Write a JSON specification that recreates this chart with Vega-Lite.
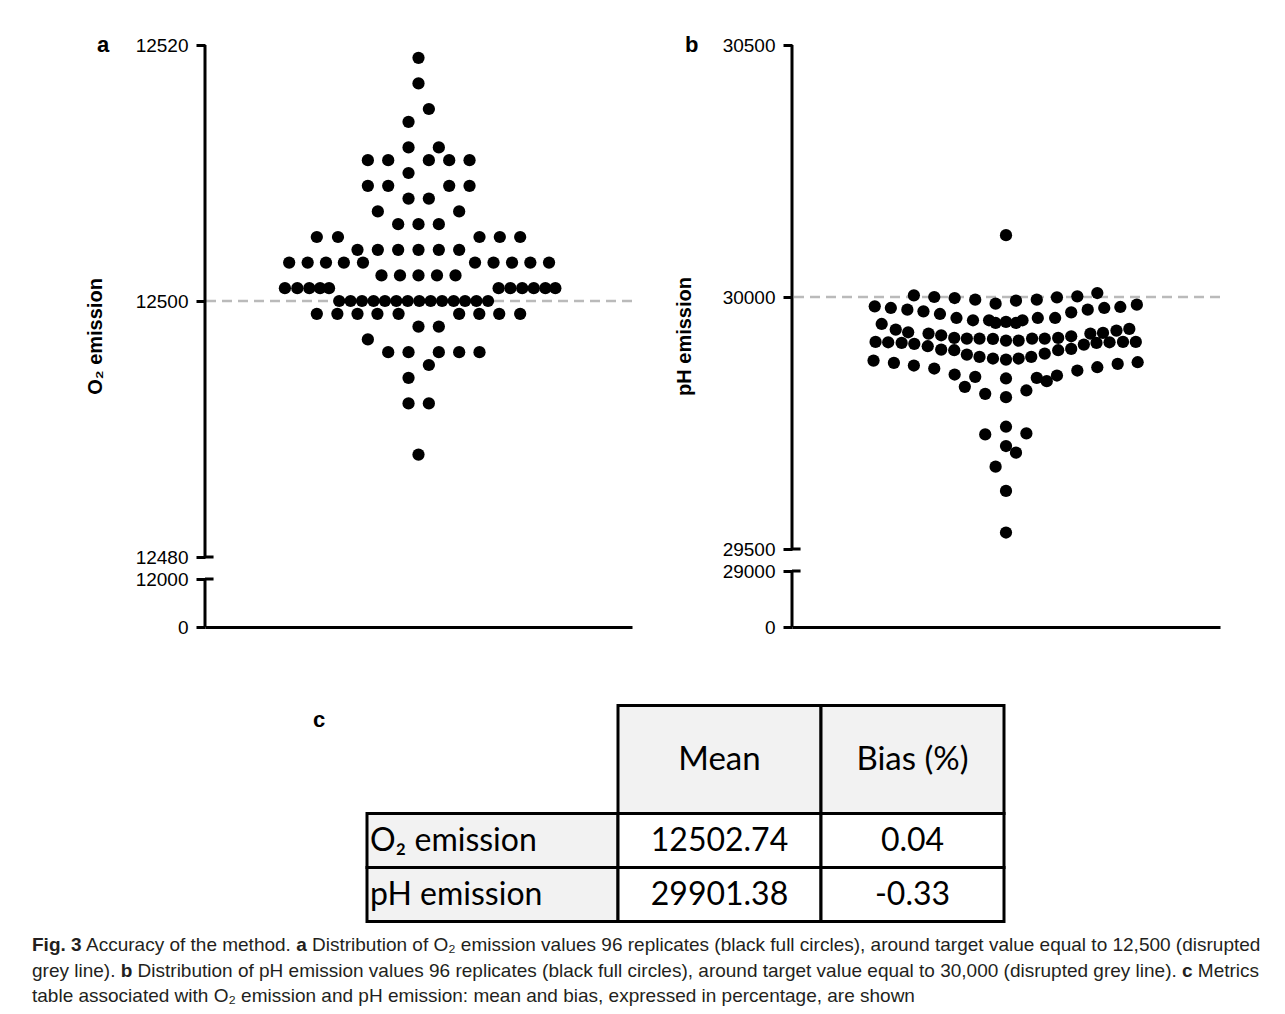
{
  "$schema": "https://vega.github.io/schema/vega-lite/v6.json",
  "background": "white",
  "padding": {"left": 32, "top": 34, "right": 0, "bottom": 0},
  "config": {"view": {"stroke": null}, "font": "Liberation Sans"},
  "datasets": {
    "o2": [
      {"dx": 0, "v": 12519}, {"dx": 0, "v": 12517}, {"dx": 0.51, "v": 12515}, {"dx": -0.49, "v": 12514},
      {"dx": -0.49, "v": 12512}, {"dx": 1, "v": 12512},
      {"dx": -2.49, "v": 12511}, {"dx": -1.49, "v": 12511}, {"dx": 0.51, "v": 12511}, {"dx": 1.51, "v": 12511}, {"dx": 2.51, "v": 12511},
      {"dx": -0.49, "v": 12510},
      {"dx": -2.49, "v": 12509}, {"dx": -1.49, "v": 12509}, {"dx": 1.51, "v": 12509}, {"dx": 2.51, "v": 12509},
      {"dx": -0.49, "v": 12508}, {"dx": 0.51, "v": 12508},
      {"dx": -2, "v": 12507}, {"dx": 2, "v": 12507},
      {"dx": -1, "v": 12506}, {"dx": 0, "v": 12506}, {"dx": 1, "v": 12506},
      {"dx": -5, "v": 12505}, {"dx": -3.96, "v": 12505}, {"dx": 3, "v": 12505}, {"dx": 4, "v": 12505}, {"dx": 5, "v": 12505},
      {"dx": -3, "v": 12504}, {"dx": -2, "v": 12504}, {"dx": -1, "v": 12504}, {"dx": 0, "v": 12504}, {"dx": 1, "v": 12504}, {"dx": 2, "v": 12504},
      {"dx": -6.36, "v": 12503}, {"dx": -5.45, "v": 12503}, {"dx": -4.55, "v": 12503}, {"dx": -3.67, "v": 12503}, {"dx": -2.73, "v": 12503},
      {"dx": 2.78, "v": 12503}, {"dx": 3.69, "v": 12503}, {"dx": 4.6, "v": 12503}, {"dx": 5.5, "v": 12503}, {"dx": 6.42, "v": 12503},
      {"dx": -1.82, "v": 12502}, {"dx": -0.91, "v": 12502}, {"dx": 0, "v": 12502}, {"dx": 0.91, "v": 12502}, {"dx": 1.82, "v": 12502},
      {"dx": -6.57, "v": 12501}, {"dx": -5.96, "v": 12501}, {"dx": -5.37, "v": 12501}, {"dx": -4.84, "v": 12501}, {"dx": -4.4, "v": 12501},
      {"dx": 3.94, "v": 12501}, {"dx": 4.52, "v": 12501}, {"dx": 5.1, "v": 12501}, {"dx": 5.67, "v": 12501}, {"dx": 6.24, "v": 12501}, {"dx": 6.73, "v": 12501},
      {"dx": -3.9, "v": 12500}, {"dx": -3.34, "v": 12500}, {"dx": -2.78, "v": 12500}, {"dx": -2.21, "v": 12500}, {"dx": -1.65, "v": 12500},
      {"dx": -1.09, "v": 12500}, {"dx": -0.53, "v": 12500}, {"dx": 0.04, "v": 12500}, {"dx": 0.6, "v": 12500}, {"dx": 1.16, "v": 12500},
      {"dx": 1.73, "v": 12500}, {"dx": 2.29, "v": 12500}, {"dx": 2.85, "v": 12500}, {"dx": 3.42, "v": 12500},
      {"dx": -5, "v": 12499}, {"dx": -3.99, "v": 12499}, {"dx": -3, "v": 12499}, {"dx": -2.02, "v": 12499}, {"dx": -0.98, "v": 12499},
      {"dx": 2, "v": 12499}, {"dx": 2.99, "v": 12499}, {"dx": 3.97, "v": 12499}, {"dx": 5, "v": 12499},
      {"dx": 0, "v": 12498}, {"dx": 1, "v": 12498},
      {"dx": -2.49, "v": 12497},
      {"dx": -1.49, "v": 12496}, {"dx": -0.49, "v": 12496}, {"dx": 1, "v": 12496}, {"dx": 2, "v": 12496}, {"dx": 3, "v": 12496},
      {"dx": 0.51, "v": 12495}, {"dx": -0.49, "v": 12494},
      {"dx": -0.49, "v": 12492}, {"dx": 0.51, "v": 12492},
      {"dx": 0, "v": 12488}
    ],
    "ph": [
      {"dx": -4.52, "v": 30003.3}, {"dx": -3.52, "v": 30000.0}, {"dx": -2.52, "v": 29998.0}, {"dx": -1.51, "v": 29994.7}, {"dx": -0.51, "v": 29986.8},
      {"dx": 0.49, "v": 29992.7}, {"dx": 1.51, "v": 29994.7}, {"dx": 2.5, "v": 29999.3}, {"dx": 3.5, "v": 30001.3}, {"dx": 4.48, "v": 30007.9},
      {"dx": 0, "v": 30122.7},
      {"dx": -6.44, "v": 29981.5}, {"dx": -5.65, "v": 29978.2}, {"dx": -4.84, "v": 29974.9}, {"dx": -4.05, "v": 29971.6}, {"dx": -3.24, "v": 29966.3},
      {"dx": -2.43, "v": 29958.4}, {"dx": -1.62, "v": 29953.8}, {"dx": -0.83, "v": 29953.8}, {"dx": -0.51, "v": 29948.5}, {"dx": 0, "v": 29950.5},
      {"dx": 0.49, "v": 29948.5}, {"dx": 0.81, "v": 29953.8}, {"dx": 1.56, "v": 29958.4}, {"dx": 2.41, "v": 29958.4}, {"dx": 3.2, "v": 29969.6},
      {"dx": 4.01, "v": 29974.9}, {"dx": 4.82, "v": 29978.2}, {"dx": 5.61, "v": 29980.2}, {"dx": 6.42, "v": 29984.8},
      {"dx": -6.1, "v": 29946.5}, {"dx": -5.41, "v": 29935.3}, {"dx": -4.8, "v": 29930.0}, {"dx": -3.8, "v": 29927.4}, {"dx": -3.18, "v": 29924.1},
      {"dx": -2.54, "v": 29918.8}, {"dx": -1.92, "v": 29917.5}, {"dx": -1.3, "v": 29917.5}, {"dx": -0.64, "v": 29916.8}, {"dx": 0, "v": 29913.5},
      {"dx": 0.62, "v": 29913.5}, {"dx": 1.28, "v": 29917.5}, {"dx": 1.9, "v": 29917.5}, {"dx": 2.56, "v": 29918.8}, {"dx": 3.2, "v": 29922.1},
      {"dx": 4.14, "v": 29927.4}, {"dx": 4.76, "v": 29928.7}, {"dx": 5.42, "v": 29933.3}, {"dx": 6.05, "v": 29936.6},
      {"dx": -6.4, "v": 29910.9}, {"dx": -5.78, "v": 29910.2}, {"dx": -5.12, "v": 29908.9}, {"dx": -4.5, "v": 29906.9}, {"dx": -3.84, "v": 29902.3},
      {"dx": -3.18, "v": 29895.7}, {"dx": -2.54, "v": 29894.4}, {"dx": -1.92, "v": 29885.8}, {"dx": -1.3, "v": 29881.2}, {"dx": -0.64, "v": 29877.9},
      {"dx": 0, "v": 29875.9}, {"dx": 0.62, "v": 29877.9}, {"dx": 1.24, "v": 29881.2}, {"dx": 1.9, "v": 29887.8}, {"dx": 2.56, "v": 29894.4},
      {"dx": 3.2, "v": 29897.0}, {"dx": 3.82, "v": 29905.6}, {"dx": 4.44, "v": 29908.9}, {"dx": 5.08, "v": 29910.2}, {"dx": 5.74, "v": 29910.9},
      {"dx": 6.37, "v": 29910.9},
      {"dx": -6.5, "v": 29873.9}, {"dx": -5.5, "v": 29869.3}, {"dx": -4.52, "v": 29864.0}, {"dx": -3.52, "v": 29858.1}, {"dx": -2.52, "v": 29846.2},
      {"dx": -1.51, "v": 29841.6}, {"dx": 0, "v": 29838.3}, {"dx": 1.51, "v": 29839.6}, {"dx": 2.0, "v": 29833.0}, {"dx": 2.5, "v": 29844.2},
      {"dx": 3.5, "v": 29854.1}, {"dx": 4.48, "v": 29860.7}, {"dx": 5.48, "v": 29867.3}, {"dx": 6.46, "v": 29870.6},
      {"dx": -2.02, "v": 29821.8}, {"dx": -1.02, "v": 29807.9}, {"dx": 0, "v": 29801.3}, {"dx": 1.0, "v": 29814.5},
      {"dx": 0, "v": 29742.6}, {"dx": -1.02, "v": 29727.4}, {"dx": 1.0, "v": 29729.4}, {"dx": 0, "v": 29704.3},
      {"dx": 0.49, "v": 29691.1}, {"dx": -0.51, "v": 29663.4}, {"dx": 0, "v": 29615.2}, {"dx": 0, "v": 29532.7}
    ],
    "o2axis": [{"lo": 12480, "hi": 12520}, {"lo": 0, "hi": 12000}],
    "phaxis": [{"lo": 29500, "hi": 30500}, {"lo": 0, "hi": 29000}],
    "o2break": [{"v": 12480}, {"v": 12000}],
    "phbreak": [{"v": 29500}, {"v": 29000}],
    "o2ref": [{"target": 12500}],
    "phref": [{"target": 30000}],
    "cols": [{"col": "Mean"}, {"col": "Bias (%)"}],
    "table": [
      {"row": "O₂ emission", "mean": "12502.74", "bias": "0.04"},
      {"row": "pH emission", "mean": "29901.38", "bias": "-0.33"}
    ],
    "caption": [
      {"line": 1, "seg": "lead", "text": "Fig. 3"},
      {"line": 1, "seg": "s1", "text": "Accuracy of the method."},
      {"line": 1, "seg": "a", "text": "a"},
      {"line": 1, "seg": "s2", "text": "Distribution of O₂ emission values 96 replicates (black full circles), around target value equal to 12,500 (disrupted"},
      {"line": 2, "seg": "s0", "text": "grey line)."},
      {"line": 2, "seg": "b", "text": "b"},
      {"line": 2, "seg": "s1", "text": "Distribution of pH emission values 96 replicates (black full circles), around target value equal to 30,000 (disrupted grey line)."},
      {"line": 2, "seg": "c", "text": "c"},
      {"line": 2, "seg": "s2", "text": "Metrics"},
      {"line": 3, "seg": "s0", "text": "table associated with O₂ emission and pH emission: mean and bias, expressed in percentage, are shown"}
    ]
  },
  "spacing": 66.5,
  "vconcat": [
    {
      "bounds": "flush",
      "spacing": 160,
      "hconcat": [
        {"width": 13, "height": 582, "view": {"fill": "white", "stroke": null}, "data": {"values": []}, "mark": "text"},
        {
          "width": 427, "height": 582,
          "title": {"text": "a", "anchor": "start", "frame": "group", "dx": -108, "dy": 13, "offset": -25, "fontSize": 22, "fontWeight": "bold", "font": "Liberation Sans", "color": "black", "baseline": "alphabetic"},
          "layer": [
            {"data": {"name": "o2ref"}, "mark": {"type": "rule", "color": "#bababa", "strokeWidth": 2.5, "strokeDash": [10, 6]},
             "encoding": {"y": {"field": "target", "type": "quantitative",
               "scale": {"type": "linear", "domain": [0, 12000, 12480, 12520], "range": [582, 534, 512, 0], "zero": false, "nice": false},
               "axis": {"values": [0, 12000, 12480, 12500, 12520], "domain": false, "ticks": true, "tickSize": 9, "tickWidth": 3, "tickColor": "black",
                        "labelFontSize": 19, "labelFont": "Liberation Sans", "labelColor": "black", "labelPadding": 8, "labelOverlap": false, "labelFlush": false, "labelBound": false,
                        "grid": false, "format": "d", "title": "O₂ emission", "titleFont": "Liberation Sans", "titleFontSize": 20, "titleFontWeight": "bold", "titleColor": "black", "titlePadding": 30}}}},
            {"data": {"name": "o2axis"}, "mark": {"type": "rule", "color": "black", "strokeWidth": 3},
             "encoding": {"x": {"datum": -10.5, "type": "quantitative", "scale": {"domain": [-10.5, 10.5], "nice": false, "zero": false},
                                "axis": {"domain": true, "domainWidth": 3, "domainColor": "black", "ticks": false, "labels": false, "grid": false, "title": null}},
                          "y": {"field": "lo", "type": "quantitative"}, "y2": {"field": "hi"}}},
            {"data": {"name": "o2break"}, "mark": {"type": "rule", "color": "black", "strokeWidth": 3},
             "encoding": {"x": {"datum": -10.5, "type": "quantitative"}, "x2": {"datum": -10.08},
                          "y": {"field": "v", "type": "quantitative"}}},
            {"data": {"name": "o2"}, "mark": {"type": "circle", "color": "black", "size": 150, "opacity": 1},
             "encoding": {"x": {"field": "dx", "type": "quantitative"}, "y": {"field": "v", "type": "quantitative"}}}
          ]
        },
        {
          "width": 428, "height": 582,
          "title": {"text": "b", "anchor": "start", "frame": "group", "dx": -107, "dy": 13, "offset": -25, "fontSize": 22, "fontWeight": "bold", "font": "Liberation Sans", "color": "black", "baseline": "alphabetic"},
          "layer": [
            {"data": {"name": "phref"}, "mark": {"type": "rule", "color": "#bababa", "strokeWidth": 2.5, "strokeDash": [10, 6]},
             "encoding": {"y": {"field": "target", "type": "quantitative",
               "scale": {"type": "linear", "domain": [0, 29000, 29500, 30500], "range": [582, 526, 504, 0], "zero": false, "nice": false},
               "axis": {"values": [0, 29000, 29500, 30000, 30500], "domain": false, "ticks": true, "tickSize": 9, "tickWidth": 3, "tickColor": "black",
                        "labelFontSize": 19, "labelFont": "Liberation Sans", "labelColor": "black", "labelPadding": 8, "labelOverlap": false, "labelFlush": false, "labelBound": false,
                        "grid": false, "format": "d", "title": "pH emission", "titleFont": "Liberation Sans", "titleFontSize": 20, "titleFontWeight": "bold", "titleColor": "black", "titlePadding": 28}}}},
            {"data": {"name": "phaxis"}, "mark": {"type": "rule", "color": "black", "strokeWidth": 3},
             "encoding": {"x": {"datum": -10.5, "type": "quantitative", "scale": {"domain": [-10.5, 10.5], "nice": false, "zero": false},
                                "axis": {"domain": true, "domainWidth": 3, "domainColor": "black", "ticks": false, "labels": false, "grid": false, "title": null}},
                          "y": {"field": "lo", "type": "quantitative"}, "y2": {"field": "hi"}}},
            {"data": {"name": "phbreak"}, "mark": {"type": "rule", "color": "black", "strokeWidth": 3},
             "encoding": {"x": {"datum": -10.5, "type": "quantitative"}, "x2": {"datum": -10.08},
                          "y": {"field": "v", "type": "quantitative"}}},
            {"data": {"name": "ph"}, "mark": {"type": "circle", "color": "black", "size": 150, "opacity": 1},
             "encoding": {"x": {"field": "dx", "type": "quantitative"}, "y": {"field": "v", "type": "quantitative"}}}
          ]
        }
      ]
    },
    {
      "spacing": 9,
      "vconcat": [
        {
          "bounds": "flush",
          "spacing": 0,
          "hconcat": [
            {"width": 335, "height": 216, "view": {"fill": "white", "stroke": null}, "data": {"values": []}, "mark": "text",
             "title": {"text": "c", "anchor": "start", "frame": "group", "dx": 281, "dy": 18, "offset": -25, "fontSize": 22, "fontWeight": "bold", "font": "Liberation Sans", "color": "black", "baseline": "alphabetic"}},
            {"width": 251, "height": 216, "data": {"name": "table"},
             "layer": [
               {"mark": {"type": "rect", "fill": "#f2f2f2", "stroke": "black", "strokeWidth": 3},
                "encoding": {"x": {"datum": 0, "type": "quantitative", "scale": {"domain": [0, 1], "nice": false}, "axis": null}, "x2": {"datum": 1},
                             "y": {"field": "row", "type": "nominal", "sort": null, "scale": {"type": "band", "paddingInner": 0, "paddingOuter": 1, "align": 1}, "axis": null}}},
               {"mark": {"type": "text", "font": "Lato", "fontSize": 32, "color": "black", "baseline": "middle", "align": "left", "dx": 3},
                "encoding": {"x": {"datum": 0, "type": "quantitative"}, "y": {"field": "row", "type": "nominal", "sort": null}, "text": {"field": "row"}}}
             ]},
            {"width": 203, "height": 216,
             "resolve": {"scale": {"y": "independent"}},
             "layer": [
               {"data": {"name": "cols"}, "transform": [{"filter": "datum.col === 'Mean'"}],
                "layer": [
                  {"mark": {"type": "rect", "fill": "#f2f2f2", "stroke": "black", "strokeWidth": 3},
                   "encoding": {"x": {"datum": 0, "type": "quantitative", "scale": {"domain": [0, 1], "nice": false}, "axis": null}, "x2": {"datum": 1},
                                "y": {"datum": 1, "type": "quantitative", "scale": {"domain": [-1, 1], "nice": false, "zero": false}, "axis": null}, "y2": {"datum": 0}}},
                  {"mark": {"type": "text", "font": "Lato", "fontSize": 33, "color": "black", "baseline": "middle", "align": "center"},
                   "encoding": {"x": {"datum": 0.5, "type": "quantitative"}, "y": {"datum": 0.5, "type": "quantitative"}, "text": {"field": "col"}}}
                ]},
               {"data": {"name": "table"},
                "layer": [
                  {"mark": {"type": "rect", "fill": "white", "stroke": "black", "strokeWidth": 3},
                   "encoding": {"x": {"datum": 0, "type": "quantitative"}, "x2": {"datum": 1},
                                "y": {"field": "row", "type": "nominal", "sort": null, "scale": {"type": "band", "paddingInner": 0, "paddingOuter": 1, "align": 1}, "axis": null}}},
                  {"mark": {"type": "text", "font": "Lato", "fontSize": 32, "color": "black", "baseline": "middle", "align": "center"},
                   "encoding": {"x": {"datum": 0.5, "type": "quantitative"}, "y": {"field": "row", "type": "nominal", "sort": null}, "text": {"field": "mean"}}}
                ]}
             ]},
            {"width": 183, "height": 216,
             "resolve": {"scale": {"y": "independent"}},
             "layer": [
               {"data": {"name": "cols"}, "transform": [{"filter": "datum.col === 'Bias (%)'"}],
                "layer": [
                  {"mark": {"type": "rect", "fill": "#f2f2f2", "stroke": "black", "strokeWidth": 3},
                   "encoding": {"x": {"datum": 0, "type": "quantitative", "scale": {"domain": [0, 1], "nice": false}, "axis": null}, "x2": {"datum": 1},
                                "y": {"datum": 1, "type": "quantitative", "scale": {"domain": [-1, 1], "nice": false, "zero": false}, "axis": null}, "y2": {"datum": 0}}},
                  {"mark": {"type": "text", "font": "Lato", "fontSize": 33, "color": "black", "baseline": "middle", "align": "center"},
                   "encoding": {"x": {"datum": 0.5, "type": "quantitative"}, "y": {"datum": 0.5, "type": "quantitative"}, "text": {"field": "col"}}}
                ]},
               {"data": {"name": "table"},
                "layer": [
                  {"mark": {"type": "rect", "fill": "white", "stroke": "black", "strokeWidth": 3},
                   "encoding": {"x": {"datum": 0, "type": "quantitative"}, "x2": {"datum": 1},
                                "y": {"field": "row", "type": "nominal", "sort": null, "scale": {"type": "band", "paddingInner": 0, "paddingOuter": 1, "align": 1}, "axis": null}}},
                  {"mark": {"type": "text", "font": "Lato", "fontSize": 32, "color": "black", "baseline": "middle", "align": "center"},
                   "encoding": {"x": {"datum": 0.5, "type": "quantitative"}, "y": {"field": "row", "type": "nominal", "sort": null}, "text": {"field": "bias"}}}
                ]}
             ]}
          ]
        },
        {
          "width": 1245, "height": 76.5,
          "view": {"fill": "white", "stroke": null},
          "data": {"name": "caption"},
          "encoding": {
            "x": {"datum": 0, "type": "quantitative", "scale": {"domain": [0, 1], "nice": false}, "axis": null},
            "y": {"field": "line", "type": "ordinal", "scale": {"type": "point", "domain": [1, 2, 3], "padding": 0.5}, "axis": null},
            "text": {"field": "text"}
          },
          "layer": [
            {"transform": [{"filter": "datum.line === 1 && datum.seg === 'lead'"}],
             "mark": {"type": "text", "align": "left", "baseline": "middle", "font": "Liberation Sans", "fontSize": 19, "fontWeight": "bold", "color": "#231f20"}},
            {"transform": [{"filter": "datum.line === 1 && datum.seg === 's1'"}],
             "mark": {"type": "text", "align": "left", "baseline": "middle", "font": "Liberation Sans", "fontSize": 19, "color": "#231f20", "dx": 54}},
            {"transform": [{"filter": "datum.line === 1 && datum.seg === 'a'"}],
             "mark": {"type": "text", "align": "left", "baseline": "middle", "font": "Liberation Sans", "fontSize": 19, "fontWeight": "bold", "color": "#231f20", "dx": 264.2}},
            {"transform": [{"filter": "datum.line === 1 && datum.seg === 's2'"}],
             "mark": {"type": "text", "align": "left", "baseline": "middle", "font": "Liberation Sans", "fontSize": 19, "color": "#231f20", "dx": 280}},
            {"transform": [{"filter": "datum.seg === 's0'"}],
             "mark": {"type": "text", "align": "left", "baseline": "middle", "font": "Liberation Sans", "fontSize": 19, "color": "#231f20"}},
            {"transform": [{"filter": "datum.line === 2 && datum.seg === 'b'"}],
             "mark": {"type": "text", "align": "left", "baseline": "middle", "font": "Liberation Sans", "fontSize": 19, "fontWeight": "bold", "color": "#231f20", "dx": 88.7}},
            {"transform": [{"filter": "datum.line === 2 && datum.seg === 's1'"}],
             "mark": {"type": "text", "align": "left", "baseline": "middle", "font": "Liberation Sans", "fontSize": 19, "color": "#231f20", "dx": 105.6}},
            {"transform": [{"filter": "datum.line === 2 && datum.seg === 'c'"}],
             "mark": {"type": "text", "align": "left", "baseline": "middle", "font": "Liberation Sans", "fontSize": 19, "fontWeight": "bold", "color": "#231f20", "dx": 1150}},
            {"transform": [{"filter": "datum.line === 2 && datum.seg === 's2'"}],
             "mark": {"type": "text", "align": "left", "baseline": "middle", "font": "Liberation Sans", "fontSize": 19, "color": "#231f20", "dx": 1165.8}}
          ]
        }
      ]
    }
  ]
}
